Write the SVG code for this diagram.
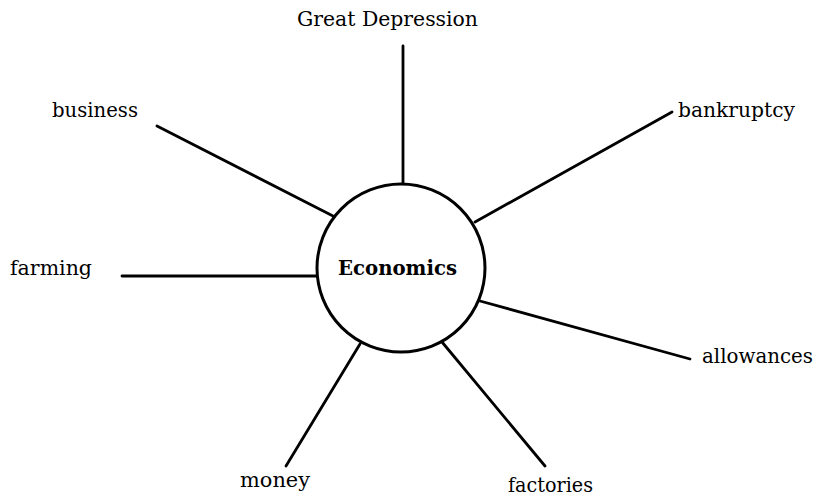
<svg xmlns="http://www.w3.org/2000/svg" width="817" height="496" viewBox="0 0 817 496">
<style>
  .lbl { font-family: "DejaVu Serif", "Liberation Serif", serif; font-size: 20px; fill: #000; }
  .hub { font-family: "DejaVu Serif", "Liberation Serif", serif; font-size: 21px; font-weight: bold; fill: #000; }
  .ln { stroke: #000; stroke-width: 2.8; fill: none; stroke-linecap: round; }
  .circ { stroke: #000; stroke-width: 3; fill: #fff; }
</style>
<rect width="817" height="496" fill="#fff"/>
<g id="connectors">
  <line class="ln" x1="403" y1="46" x2="403" y2="183"/>
  <line class="ln" x1="157" y1="126" x2="333" y2="216"/>
  <line class="ln" x1="672" y1="112" x2="475" y2="222"/>
  <line class="ln" x1="122" y1="276" x2="317" y2="276"/>
  <line class="ln" x1="480" y1="301" x2="690" y2="359"/>
  <line class="ln" x1="360" y1="344" x2="286" y2="466"/>
  <line class="ln" x1="442" y1="342" x2="545" y2="466"/>
</g>
<g id="economics">
  <circle class="circ" cx="401" cy="268" r="84"/>
  <text class="hub" x="338" y="275" textLength="119" lengthAdjust="spacingAndGlyphs">Economics</text>
</g>
<g id="great-depression">
  <text class="lbl" x="297" y="26" textLength="181" lengthAdjust="spacingAndGlyphs">Great Depression</text>
</g>
<g id="business">
  <text class="lbl" x="52" y="117" textLength="86" lengthAdjust="spacingAndGlyphs">business</text>
</g>
<g id="bankruptcy">
  <text class="lbl" x="678" y="117" textLength="117" lengthAdjust="spacingAndGlyphs">bankruptcy</text>
</g>
<g id="farming">
  <text class="lbl" x="10" y="275" textLength="82" lengthAdjust="spacingAndGlyphs">farming</text>
</g>
<g id="allowances">
  <text class="lbl" x="702" y="363" textLength="111" lengthAdjust="spacingAndGlyphs">allowances</text>
</g>
<g id="money">
  <text class="lbl" x="240" y="487" textLength="70" lengthAdjust="spacingAndGlyphs">money</text>
</g>
<g id="factories">
  <text class="lbl" x="508" y="492" textLength="85" lengthAdjust="spacingAndGlyphs">factories</text>
</g>
</svg>
